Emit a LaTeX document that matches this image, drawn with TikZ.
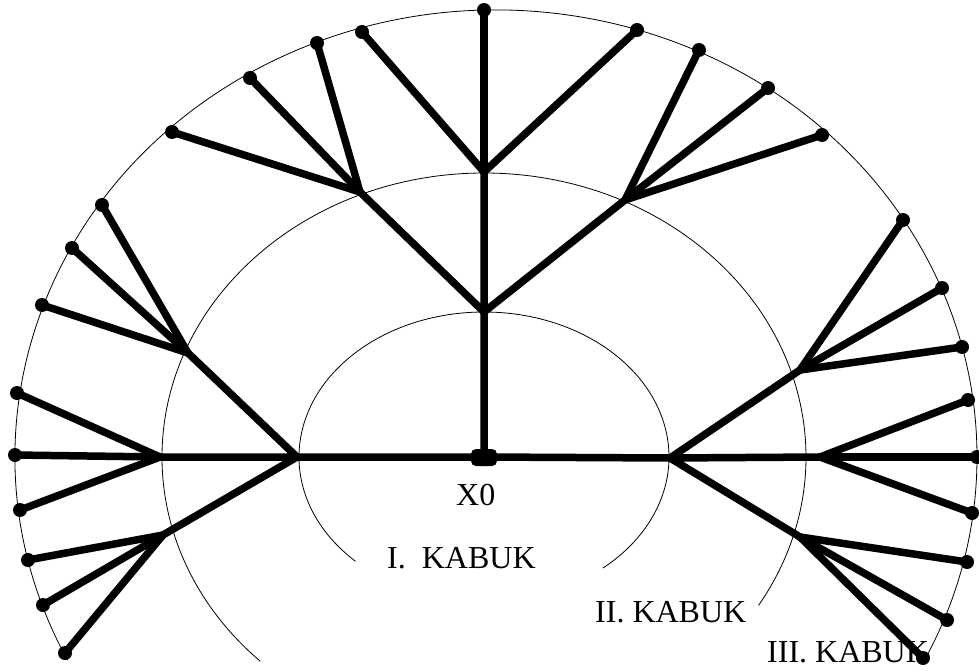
\documentclass[tikz,border=0pt]{standalone}
\usepackage{fontspec}
\setmainfont{Liberation Serif}
\begin{document}
\begin{tikzpicture}[x=1pt,y=-1pt,
  branch/.style={line width=7.5pt,line cap=round},
  kabuk/.style={line width=0.8pt},
  lab/.style={inner sep=0pt,anchor=base west,font=\fontsize{32}{36}\selectfont}]
\useasboundingbox (0,0) rectangle (979,671);
\coordinate (X) at (484,457); \coordinate (O) at (496,457);
\draw[kabuk] (X) ++(226:185pt and 145pt) arc[start angle=226,end angle=-50,x radius=185pt,y radius=145pt];
\draw[kabuk] (X) ++(226:322pt and 284pt) arc[start angle=226,end angle=-31.5,x radius=322pt,y radius=284pt];
\draw[kabuk] (O) ++(207:481pt and 447pt) arc[start angle=207,end angle=-27,x radius=481pt,y radius=447pt];
\node[lab] (x0) at (456,505) {X0};
\node[lab] (k1) at (387,568) {I.\ \ KABUK};
\node[lab] (k2) at (595,622) {II. KABUK};
\node[lab] (k3) at (767,662) {III. KABUK};
% I. kabuk
\coordinate (U) at (484,312); \coordinate (L) at (297,457); \coordinate (R) at (670,458);
% II. kabuk
\coordinate (UL) at (360,192); \coordinate (UU) at (484,172); \coordinate (UR) at (625,200);
\coordinate (LU) at (188,353); \coordinate (LL) at (160,457); \coordinate (LD) at (163,535);
\coordinate (RU) at (800,370); \coordinate (RR) at (820,457); \coordinate (RD) at (800,537);
% III. kabuk
\coordinate (UL1) at (172,132); \coordinate (UL2) at (250,78); \coordinate (UL3) at (317,43);
\coordinate (UU1) at (362,32); \coordinate (UU2) at (484,10); \coordinate (UU3) at (637,30);
\coordinate (UR1) at (699,50); \coordinate (UR2) at (768,88); \coordinate (UR3) at (822,135);
\coordinate (LU1) at (102,205); \coordinate (LU2) at (72,248); \coordinate (LU3) at (42,305);
\coordinate (LL1) at (17,393); \coordinate (LL2) at (15,455); \coordinate (LL3) at (20,510);
\coordinate (LD1) at (28,560); \coordinate (LD2) at (43,605); \coordinate (LD3) at (65,653);
\coordinate (RU1) at (903,220); \coordinate (RU2) at (942,288); \coordinate (RU3) at (962,347);
\coordinate (RR1) at (968,400); \coordinate (RR2) at (977,457); \coordinate (RR3) at (972,513);
\coordinate (RD1) at (967,562); \coordinate (RD2) at (947,620); \coordinate (RD3) at (923,658);
\draw[branch] (X)--(U) (X)--(L) (X)--(R);
\draw[branch] (U)--(UL) (U)--(UU) (U)--(UR) (L)--(LU) (L)--(LL) (L)--(LD) (R)--(RU) (R)--(RR) (R)--(RD);
\foreach \p in {UL,UU,UR,LU,LL,LD,RU,RR,RD}
  \foreach \i in {1,2,3} {
    \draw[branch] (\p)--(\p\i);
    \fill (\p\i) circle[radius=7pt];
  }
\fill[rounded corners=5pt] (471,449) rectangle (497,466);
\end{tikzpicture}
\end{document}
